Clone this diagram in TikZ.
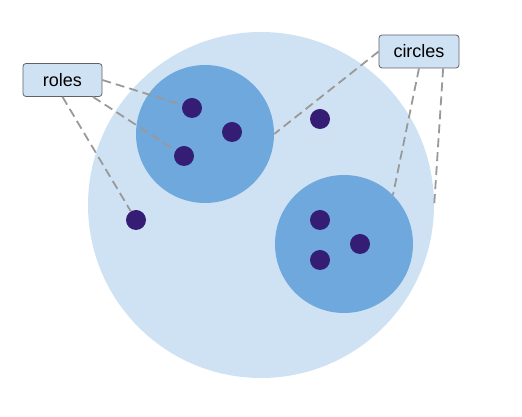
\documentclass[tikz,border=0pt]{standalone}
\usepackage{fontspec}
\setmainfont{Liberation Sans}
\usepackage{tikz}
\usetikzlibrary{positioning}
\usepackage{xcolor}

\definecolor{outerblue}{HTML}{CFE2F3}
\definecolor{innerblue}{HTML}{6FA8DC}
\definecolor{dotpurple}{HTML}{351C75}
\definecolor{boxline}{HTML}{5F6368}
\definecolor{leader}{HTML}{999999}

\begin{document}
\begin{tikzpicture}[
    x=1pt, y=1pt,
    outer/.style={circle, fill=outerblue, inner sep=0pt, minimum size=346pt},
    inner/.style={circle, fill=innerblue, inner sep=0pt, minimum size=138pt},
    member/.style={circle, fill=dotpurple, inner sep=0pt, minimum size=20pt},
    label/.style={draw=boxline, fill=outerblue, rounded corners=3pt, line width=0.8pt, minimum width=79pt, minimum height=33pt, inner sep=0pt, font=\fontsize{18}{21}\selectfont},
    lead/.style={draw=leader, line width=1.8pt, dash pattern=on 9pt off 5pt}
]
\useasboundingbox (0,0) rectangle (522,417);

% Nodes
\node[outer] (big) at (261,212) {};
\node[inner] (c1) at (205,283) {};
\node[inner] (c2) at (344,173) {};

\node[member] (d1) at (192,309) {};
\node[member] (d2) at (232,285) {};
\node[member] (d3) at (184,261) {};
\node[member] (d4) at (320,298) {};
\node[member] (d5) at (136,197) {};
\node[member] (d6) at (320,197) {};
\node[member] (d7) at (360,173) {};
\node[member] (d8) at (320,157) {};

\node[label] (roles) at (62.5,337) {roles};
\node[label, minimum width=80pt] (circles) at (419,365.5) {circles};

% Leaders
\draw[lead] (roles.east) -- (d1);
\draw[lead] (roles.-29) -- (d3);
\draw[lead] (roles.south) -- (d5);
\draw[lead] (circles.west) -- (c1.east);
\draw[lead] (circles.south) -- (c2.north east);
\draw[lead] (circles.-35) -- (big.east);
\end{tikzpicture}
\end{document}
